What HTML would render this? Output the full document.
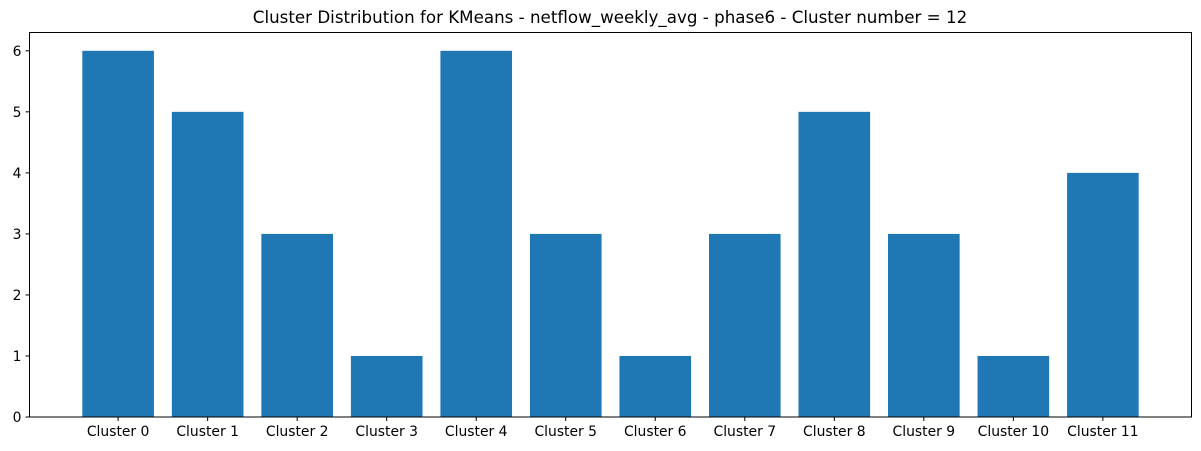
<!DOCTYPE html>
<html><head><meta charset="utf-8"><style>
body{margin:0;background:#fff}
svg{display:block;font-family:"DejaVu Sans","Liberation Sans",sans-serif}
</style></head><body>
<svg id="chart" width="1201" height="451">
<text x="610" y="23" text-anchor="middle" font-size="16.7" fill="#000">Cluster Distribution for KMeans - netflow_weekly_avg - phase6 - Cluster number = 12</text>
<g id="bars"></g><g id="axes"></g>
</svg>
<script>
const categories=["Cluster 0","Cluster 1","Cluster 2","Cluster 3","Cluster 4","Cluster 5","Cluster 6","Cluster 7","Cluster 8","Cluster 9","Cluster 10","Cluster 11"];
const counts=[6,5,3,1,6,3,1,3,5,3,1,4];
const yTicks=[0,1,2,3,4,5,6];
const L=29.5,R=1191.5,T=32.5,B=417;
const n=categories.length;
const ymax=Math.max(...counts)*1.05;
function xc(i){const lo=-0.4-0.59,hi=n-1+0.4+0.59;return L+(i-lo)/(hi-lo)*(R-L);}
const y=v=>B-v/ymax*(B-T);
const NS="http://www.w3.org/2000/svg";
const bars=document.getElementById('bars'),axes=document.getElementById('axes');
const unit=xc(1)-xc(0);
counts.forEach((v,i)=>{
 const r=document.createElementNS(NS,'rect');
 r.setAttribute('x',xc(i)-0.4*unit);r.setAttribute('width',0.8*unit);
 r.setAttribute('y',y(v));r.setAttribute('height',B-y(v));r.setAttribute('fill','#1f77b4');
 
 
 bars.appendChild(r);
 const t=document.createElementNS(NS,'line');
 t.setAttribute('x1',xc(i));t.setAttribute('x2',xc(i));t.setAttribute('y1',B);t.setAttribute('y2',B+4);t.setAttribute('stroke','#000');
 axes.appendChild(t);
 const tx=document.createElementNS(NS,'text');
 tx.setAttribute('x',xc(i));tx.setAttribute('y',B+19);tx.setAttribute('text-anchor','middle');tx.setAttribute('font-size','13.9');
 tx.textContent=categories[i];
 
 
 axes.appendChild(tx);
});
yTicks.forEach(v=>{
 const t=document.createElementNS(NS,'line');
 t.setAttribute('x1',L-4);t.setAttribute('x2',L);t.setAttribute('y1',y(v));t.setAttribute('y2',y(v));t.setAttribute('stroke','#000');
 axes.appendChild(t);
 const tx=document.createElementNS(NS,'text');
 tx.setAttribute('x',L-8);tx.setAttribute('y',y(v)+5);tx.setAttribute('text-anchor','end');tx.setAttribute('font-size','13.9');
 tx.textContent=v;
 
 
 axes.appendChild(tx);
});
const f=document.createElementNS(NS,'rect');
f.setAttribute('x',L);f.setAttribute('y',T);f.setAttribute('width',R-L);f.setAttribute('height',B-T);
f.setAttribute('fill','none');f.setAttribute('stroke','#000');f.setAttribute('stroke-width','1');


axes.appendChild(f);
</script>
</body></html>
